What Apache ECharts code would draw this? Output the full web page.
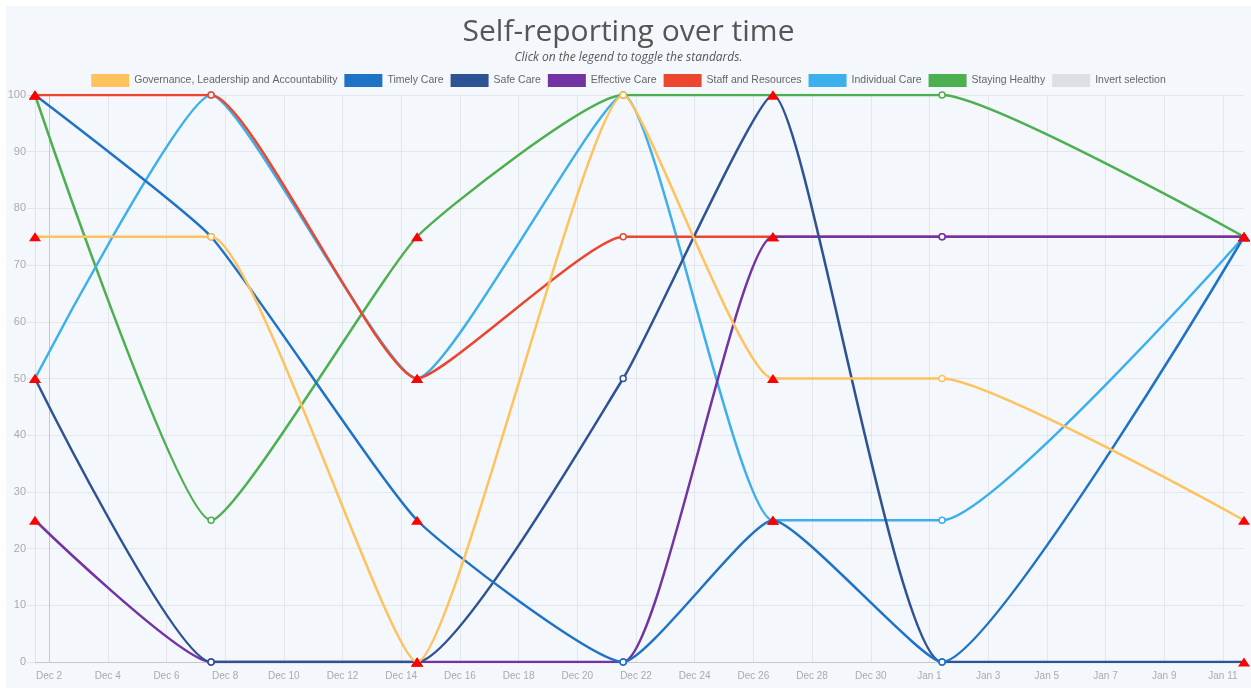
<!DOCTYPE html>
<html>
<head>
<meta charset="utf-8">
<script src="https://cdn.jsdelivr.net/npm/echarts@6/dist/echarts.min.js"></script>
<style>
  html, body { margin: 0; padding: 0; background: #fff; }
  #main { position: absolute; left: 6px; top: 6px; width: 1245px; height: 682px; background: #f4f7fb; }
</style>
</head>
<body>
<div id="main"></div>
<script>
// report dates (local time)
const dates = ['2019-12-01T12:30', '2019-12-07T12:30', '2019-12-14T13:00', '2019-12-21T13:30',
  '2019-12-26T16:00', '2020-01-01T10:20', '2020-01-11T17:15'];
const governance = [75, 75, 0, 100, 50, 50, 25];
const timelyCare = [100, 75, 25, 0, 25, 0, 75];
const safeCare = [50, 0, 0, 50, 100, 0, 0];
const effectiveCare = [25, 0, 0, 0, 75, 75, 75];
const staffResources = [100, 100, 50, 75, 75, 75, 75];
const individualCare = [50, 100, 50, 100, 25, 25, 75];
const stayingHealthy = [100, 25, 75, 100, 100, 100, 75];

const tickDates = ['2019-12-02', '2019-12-04', '2019-12-06', '2019-12-08', '2019-12-10', '2019-12-12',
  '2019-12-14', '2019-12-16', '2019-12-18', '2019-12-20', '2019-12-22', '2019-12-24', '2019-12-26',
  '2019-12-28', '2019-12-30', '2020-01-01', '2020-01-03', '2020-01-05', '2020-01-07', '2020-01-09', '2020-01-11'];
const tickLabels = ['Dec 2', 'Dec 4', 'Dec 6', 'Dec 8', 'Dec 10', 'Dec 12', 'Dec 14', 'Dec 16', 'Dec 18',
  'Dec 20', 'Dec 22', 'Dec 24', 'Dec 26', 'Dec 28', 'Dec 30', 'Jan 1', 'Jan 3', 'Jan 5', 'Jan 7', 'Jan 9', 'Jan 11'];

const times = dates.map(d => new Date(d).getTime());
const tickTimes = tickDates.map(d => new Date(d + 'T00:00').getTime());

const standards = [
  { name: 'Governance, Leadership and Accountability', color: '#ffc25c', values: governance },
  { name: 'Timely Care', color: '#1f73c6', values: timelyCare },
  { name: 'Safe Care', color: '#2d5395', values: safeCare },
  { name: 'Effective Care', color: '#7233a3', values: effectiveCare },
  { name: 'Staff and Resources', color: '#ed4630', values: staffResources },
  { name: 'Individual Care', color: '#3cb0ec', values: individualCare },
  { name: 'Staying Healthy', color: '#4caf50', values: stayingHealthy }
];

function buildData(values, color) {
  return values.map(function (v, i) {
    if (i % 2 === 0) {
      return { value: [times[i], v], symbol: 'triangle', symbolSize: [12, 9],
        itemStyle: { color: '#ff0000', borderWidth: 0 } };
    }
    return { value: [times[i], v], symbol: 'circle', symbolSize: 6,
      itemStyle: { color: '#ffffff', borderColor: color, borderWidth: 1.5 } };
  });
}

const series = standards.map(function (s, idx) {
  return {
    name: s.name,
    type: 'line',
    smooth: 0.15,
    z: 20 - idx,
    showAllSymbol: true,
    itemStyle: { color: s.color },
    lineStyle: { color: s.color, width: 2.5 },
    emphasis: { disabled: true },
    data: buildData(s.values, s.color)
  };
});
series.push({ name: 'Invert selection', type: 'line', data: [], itemStyle: { color: '#dcdfe3' } });

const gridColors = tickTimes.map((t, i) => i === 0 ? '#c4c7cb' : '#e3e6ea');

var myChart = echarts.init(document.getElementById('main'));
option = {
  animation: false,
  textStyle: { fontFamily: 'Liberation Sans, Arial, sans-serif' },
  title: {
    text: 'Self-reporting over time',
    subtext: 'Click on the legend to toggle the standards.',
    left: 'center',
    top: 6,
    itemGap: 5,
    textStyle: { fontFamily: 'Open Sans', fontSize: 30, fontWeight: 'normal', color: '#555' },
    subtextStyle: { fontFamily: 'Open Sans', fontStyle: 'italic', fontSize: 12, color: '#555' }
  },
  legend: {
    top: 63,
    left: 'center',
    icon: 'rect',
    itemWidth: 38,
    itemHeight: 13,
    itemGap: 7,
    textStyle: { fontSize: 10.5, color: '#666' },
    data: standards.map(s => s.name).concat(['Invert selection'])
  },
  grid: { left: 29, right: 7, top: 89, bottom: 26, outerBoundsMode: 'none' },
  xAxis: {
    type: 'value',
    min: times[0],
    max: times[times.length - 1],
    axisLine: { show: true, lineStyle: { color: '#c4c7cb' } },
    axisTick: { show: false, customValues: tickTimes },
    axisLabel: {
      customValues: tickTimes,
      fontSize: 10,
      color: '#aaa',
      margin: 9,
      hideOverlap: false,
      formatter: function (v) {
        const i = tickTimes.indexOf(v);
        return i >= 0 ? tickLabels[i] : '';
      }
    },
    splitLine: { show: true, lineStyle: { color: gridColors, width: 1 } }
  },
  yAxis: {
    type: 'value',
    min: 0,
    max: 100,
    interval: 10,
    axisLine: { show: true, lineStyle: { color: '#e0e3e7' } },
    axisTick: { show: true, length: 8, lineStyle: { color: '#e0e3e7' } },
    axisLabel: { fontSize: 11, color: '#aaa', margin: 9 },
    splitLine: { lineStyle: { color: '#e3e6ea' } }
  },
  series: series
};
myChart.setOption(option);
</script>
</body>
</html>
